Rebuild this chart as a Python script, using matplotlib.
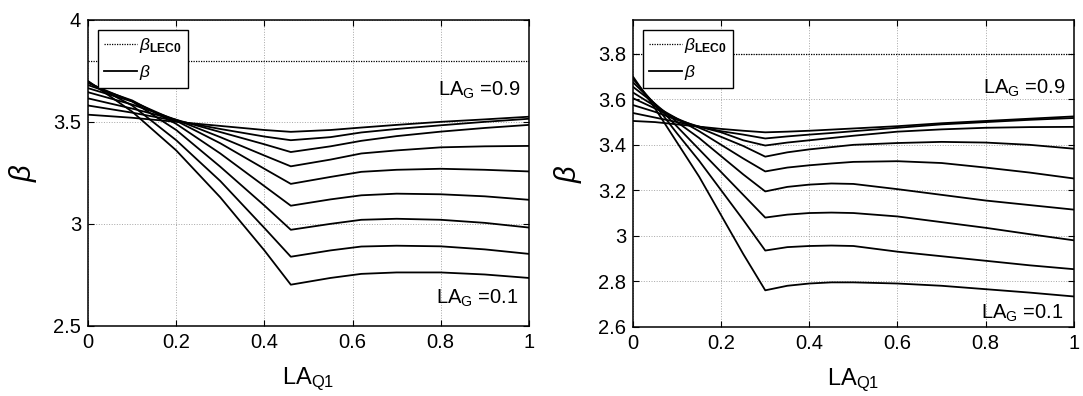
import matplotlib
matplotlib.use('Agg')
import matplotlib.pyplot as plt
from matplotlib.ticker import FuncFormatter

plt.rcParams['font.family'] = ['Liberation Sans', 'DejaVu Sans']
plt.rcParams['mathtext.fontset'] = 'custom'
plt.rcParams['mathtext.rm'] = 'Liberation Sans'
plt.rcParams['mathtext.it'] = 'Liberation Sans:italic'
plt.rcParams['mathtext.bf'] = 'Liberation Sans:bold'

# LA_G levels (0.1 ... 0.9)
la_g = [0.1, 0.2, 0.3, 0.4, 0.5, 0.6, 0.7, 0.8, 0.9]
beta_lec0 = 3.8

# Left panel: kink at LA_Q1 = 0.46
x_left = [0, 0.1, 0.2, 0.3, 0.4, 0.46, 0.55, 0.62, 0.7, 0.8, 0.9, 1.0]
beta_left = [
    [3.700, 3.550, 3.360, 3.130, 2.870, 2.702, 2.735, 2.755, 2.762, 2.762, 2.752, 2.735],
    [3.695, 3.580, 3.410, 3.210, 2.980, 2.839, 2.870, 2.889, 2.893, 2.890, 2.875, 2.853],
    [3.690, 3.600, 3.460, 3.280, 3.090, 2.971, 3.000, 3.020, 3.025, 3.020, 3.005, 2.982],
    [3.680, 3.605, 3.490, 3.345, 3.185, 3.089, 3.120, 3.140, 3.148, 3.145, 3.135, 3.118],
    [3.665, 3.600, 3.505, 3.395, 3.270, 3.196, 3.230, 3.255, 3.265, 3.270, 3.265, 3.257],
    [3.645, 3.585, 3.510, 3.425, 3.335, 3.282, 3.315, 3.345, 3.360, 3.375, 3.380, 3.382],
    [3.615, 3.565, 3.510, 3.450, 3.390, 3.352, 3.380, 3.407, 3.430, 3.452, 3.470, 3.485],
    [3.580, 3.545, 3.505, 3.465, 3.428, 3.410, 3.425, 3.448, 3.465, 3.483, 3.500, 3.515],
    [3.535, 3.520, 3.500, 3.480, 3.460, 3.451, 3.460, 3.472, 3.485, 3.500, 3.512, 3.525],
]

# Right panel: kink at LA_Q1 = 0.3
x_right = [0, 0.05, 0.1, 0.15, 0.2, 0.25, 0.3, 0.35, 0.4, 0.45, 0.5,
           0.6, 0.7, 0.8, 0.9, 1.0]
beta_right = [
    [3.700, 3.560, 3.410, 3.260, 3.090, 2.920, 2.760, 2.780, 2.790, 2.795, 2.795,
     2.790, 2.780, 2.765, 2.750, 2.733],
    [3.690, 3.575, 3.450, 3.330, 3.200, 3.070, 2.935, 2.950, 2.955, 2.957, 2.955,
     2.930, 2.910, 2.890, 2.870, 2.853],
    [3.675, 3.580, 3.480, 3.380, 3.280, 3.180, 3.080, 3.093, 3.100, 3.102, 3.100,
     3.085, 3.060, 3.035, 3.007, 2.980],
    [3.655, 3.580, 3.500, 3.430, 3.350, 3.270, 3.195, 3.215, 3.225, 3.230, 3.228,
     3.205, 3.180, 3.155, 3.135, 3.115],
    [3.630, 3.570, 3.515, 3.460, 3.400, 3.340, 3.283, 3.300, 3.310, 3.318, 3.325,
     3.328, 3.320, 3.300, 3.278, 3.252],
    [3.605, 3.560, 3.515, 3.475, 3.435, 3.395, 3.348, 3.367, 3.380, 3.390, 3.400,
     3.408, 3.413, 3.410, 3.400, 3.383],
    [3.575, 3.545, 3.510, 3.480, 3.455, 3.420, 3.397, 3.410, 3.420, 3.430, 3.440,
     3.458, 3.468, 3.475, 3.478, 3.479],
    [3.540, 3.520, 3.500, 3.480, 3.460, 3.445, 3.428, 3.437, 3.445, 3.452, 3.460,
     3.475, 3.490, 3.500, 3.510, 3.518],
    [3.505, 3.500, 3.490, 3.480, 3.470, 3.462, 3.455, 3.458, 3.462, 3.467, 3.472,
     3.482, 3.495, 3.505, 3.515, 3.525],
]

x_ticks = [0, 0.2, 0.4, 0.6, 0.8, 1.0]
y_ticks_left = [2.5, 3, 3.5, 4]
y_ticks_right = [2.6, 2.8, 3.0, 3.2, 3.4, 3.6, 3.8]


def draw_panel(ax, x, curves, ylim, yticks, txt_hi, txt_lo):
    ax.axhline(beta_lec0, color='black', linestyle=(0, (1, 1)), linewidth=0.9,
               label=r'$\beta_{\mathbf{LEC0}}$')
    for i, c in enumerate(curves):
        ax.plot(x, c, color='black', linewidth=1.3,
                label=r'$\beta$' if i == 0 else None)
    ax.set_xlim(0, 1)
    ax.set_ylim(*ylim)
    ax.set_xticks(x_ticks)
    ax.set_yticks(yticks)
    fmt = FuncFormatter(lambda v, p: '%g' % round(v, 2))
    ax.xaxis.set_major_formatter(fmt)
    ax.yaxis.set_major_formatter(fmt)
    ax.tick_params(direction='in', length=4, width=0.8, labelsize=14.5,
                   top=True, right=True, pad=5)
    ax.grid(True, color='0.65', linestyle=':', linewidth=0.7)
    for s in ax.spines.values():
        s.set_linewidth(1.1)
    ax.set_xlabel(r'LA$_{\mathrm{Q1}}$', fontsize=17, labelpad=10)
    ax.set_ylabel(r'$\beta$', fontsize=21, labelpad=10)
    ax.text(0.795, txt_hi, r'LA$_{\mathrm{G}}$ =0.9', fontsize=14.5, va='baseline')
    ax.text(0.79, txt_lo, r'LA$_{\mathrm{G}}$ =0.1', fontsize=14.5, va='baseline')
    leg = ax.legend(loc='upper left', bbox_to_anchor=(0.022, 0.968),
                    fontsize=12.5, handlelength=1.9, handletextpad=0.15,
                    borderpad=0.35, labelspacing=0.5, borderaxespad=0,
                    fancybox=False, framealpha=1, edgecolor='black')
    leg.get_frame().set_linewidth(1.0)


fig = plt.figure(figsize=(10.83, 3.96), dpi=100)
ax1 = fig.add_axes([0.0813, 0.177, 0.407, 0.773])
ax2 = fig.add_axes([0.5845, 0.175, 0.407, 0.775])

draw_panel(ax1, x_left, beta_left, (2.5, 4.0), y_ticks_left, 3.63, 2.61)
draw_panel(ax2, x_right, beta_right, (2.6, 3.95), y_ticks_right, 3.623, 2.637)

fig.savefig('out.png', dpi=100)
